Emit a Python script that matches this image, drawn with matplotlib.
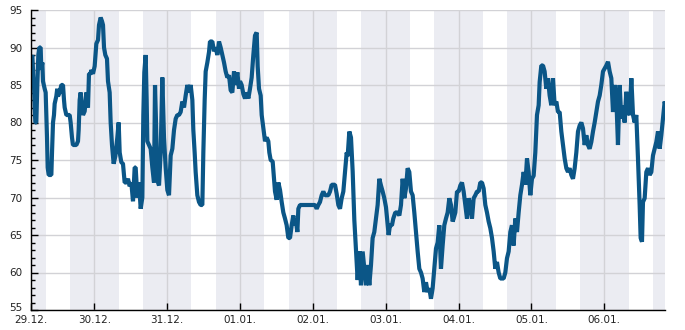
import matplotlib
matplotlib.use("Agg")
import matplotlib.pyplot as plt
import matplotlib.transforms as mtransforms
from matplotlib.ticker import MultipleLocator

# hours since 29.12. 00:00
hours = [
    3.05, 3.26, 3.59, 3.92, 4.14, 4.36, 4.58, 4.9, 5.23, 5.56, 5.89, 6.33, 6.55, 6.88, 7.1, 7.65, 7.98,
    8.2, 8.42, 8.64, 8.97, 9.52, 9.85, 10.07, 10.4, 10.72, 10.94, 11.49, 11.8, 12.04, 12.59, 13.14, 13.69,
    14.02, 14.24, 14.79, 15.34, 15.89, 16.21, 16.65, 16.98, 17.53, 18.08, 18.63, 18.85, 19.18, 19.51,
    19.84, 20.28, 20.83, 21.38, 21.92, 22.25, 22.8, 23.02, 23.57, 24.12, 24.67, 25.22, 25.55, 26.1,
    26.54, 26.87, 27.2, 27.63, 28.18, 28.51, 29.06, 29.39, 29.83, 30.38, 30.93, 31.59, 32.03, 32.36,
    32.9, 33.45, 34.0, 34.55, 35.1, 35.65, 36.2, 36.75, 37.3,
    37.63, 38.18, 38.73, 39.28, 39.83, 40.15, 40.48, 40.92, 41.25, 41.47, 42.02, 42.57, 43.12, 43.67,
    44.0, 44.33, 44.55, 44.99, 45.32, 45.86, 46.41, 46.74, 46.96, 47.51, 48.06, 48.61, 49.16, 49.71,
    50.26, 50.81, 51.35, 51.9, 52.45, 53.0, 53.55, 54.1, 54.65, 55.2, 55.75, 56.3, 56.62, 57.06, 57.39,
    57.94, 58.49, 59.04, 59.59, 59.92, 60.36, 60.69, 61.24, 61.79, 62.11, 62.88, 63.43, 63.98, 64.53,
    65.08, 65.63, 66.18, 66.73, 67.28, 67.82, 68.37, 68.92, 69.47, 70.02, 70.57, 71.12, 71.67,
    72.0, 72.55, 73.1, 73.65, 74.2, 74.75, 75.29, 75.84, 76.39, 76.94, 77.49, 77.82, 78.26, 78.81,
    79.14, 79.69, 80.24, 80.78, 81.33, 81.66, 82.1, 82.76, 83.2, 83.53, 84.08, 84.63, 85.18, 85.73,
    86.27, 86.82, 87.37, 87.92, 88.47, 89.02, 89.57, 89.9, 90.34, 90.89, 91.22, 91.76, 92.86, 93.96,
    95.06, 96.71, 97.25, 97.8, 98.35, 98.9, 99.45, 100.0, 100.55, 101.1, 101.65, 102.2, 103.29,
    103.84, 104.39, 104.94, 105.49, 106.04, 106.59, 107.14,
    107.46, 108.01, 108.56, 109.11, 109.66, 110.2, 110.75, 111.3, 111.85, 112.4, 112.95, 113.5,
    114.05, 114.6, 115.15, 115.69, 116.24, 116.79, 117.34, 117.89, 118.44, 118.99, 119.54, 120.09,
    120.64, 120.96, 121.4, 122.06, 122.5, 123.16, 123.93, 124.48, 125.03, 125.58, 126.13, 126.67,
    127.22, 127.77, 128.32, 128.87, 129.42, 129.97, 130.52, 131.07, 131.62, 132.16, 132.71, 133.26,
    133.81, 134.36, 134.91, 135.46, 136.01, 136.56, 137.11, 137.65, 138.2, 138.75, 139.3, 139.85,
    140.4, 140.95, 141.5, 142.05,
    142.38, 142.93, 143.48, 144.03, 144.58, 145.12, 145.67, 146.22, 146.77, 147.32, 147.87, 148.42,
    148.97, 149.52, 150.07, 150.61, 151.16, 151.71, 152.26, 152.81, 153.36, 153.91, 154.46, 155.01,
    155.56, 156.1, 156.65, 157.2, 157.75, 158.3, 158.85, 159.4, 159.95, 160.5, 161.05, 161.59,
    162.14, 162.69, 163.24, 163.79, 164.34, 164.89, 165.44, 165.99, 166.54, 167.08, 167.63, 168.18,
    168.73, 169.28, 169.83, 170.38, 170.71, 171.26, 171.81, 172.35, 172.9, 173.45, 174.0, 174.55,
    175.1, 175.65, 176.2, 176.75,
    177.3, 177.85, 178.4, 178.95, 179.5, 180.04, 180.59, 181.14, 181.69, 182.24, 182.79, 183.34,
    183.89, 184.44, 184.99, 185.53, 186.08, 186.63, 187.18, 187.73, 188.28, 188.83, 189.38, 189.93,
    190.48, 191.02, 191.57, 192.12, 192.67, 193.22, 193.77, 194.32, 194.87, 195.42, 195.97, 196.51,
    197.06, 197.61, 198.16, 198.71, 199.26, 199.81, 200.36, 200.91, 201.46, 202.0, 202.55, 203.1,
    203.65, 203.98, 204.42, 204.75, 205.3, 205.85, 206.4, 206.95, 207.5, 208.04, 208.59, 209.14,
    209.69, 210.24, 210.79, 211.34, 211.89, 212.11,
]

humidity = [
    87.5, 88.5, 89, 86, 85, 82, 80, 80, 85, 89, 90, 90, 87, 88, 85.5, 84.5, 84,
    81, 78, 74, 73, 73, 73, 76, 80, 81, 82.5, 83.5, 84.5, 83.5, 84, 85, 85,
    83, 82, 81, 81, 81, 80, 78, 77, 77, 77, 77.5, 79, 83, 84,
    82.5, 81, 81.5, 84, 82, 86.5, 86.5, 87, 86.5, 87.5, 90.5, 91, 93, 94,
    93.5, 93, 90, 89, 88.5, 85.5, 84, 80, 77, 74.5, 75.5, 78, 80, 76,
    74.7, 74.5, 72, 72, 72.5, 71.5, 72, 69.5, 74,
    74, 70, 72, 68.5, 70, 81, 86.7, 89, 83, 77.5, 77, 76.5, 74, 72,
    85, 80, 76, 72, 71.6, 76, 86, 81, 78, 74, 71, 70.3, 75.6, 76.5,
    79, 80.5, 81, 81, 81.4, 82.8, 82, 83.6, 85, 84, 85, 83, 79, 76, 73.4,
    70.3, 69.4, 69, 69, 76, 83, 86.8, 88, 89.4, 90.8, 90.8, 89.5, 90, 89,
    90.8, 90, 89, 88, 86.8, 86, 86.3, 84.3, 84, 86.8, 85, 86.7, 84.5,
    85.5, 85, 83.8, 83.2, 84, 83.2, 84.5, 86, 89, 91.6, 92, 87.5, 84.5, 83.6,
    81, 79.3, 77.5, 78, 77.5, 76, 75, 74.8, 72.5, 70.8, 69.7, 72, 71, 69.4,
    68, 67.2, 66.3, 64.6, 64.6, 66.3, 67.6, 66.3, 67.2, 65.4, 68.5, 69, 69, 69,
    69, 69, 68.5, 69, 69.4, 70.3, 70.8, 70.3, 70.3, 70.3, 70.8, 71.7, 71.7,
    70.5, 69, 68.5, 69.9, 70.8, 73.4, 76,
    75.5, 78.8, 78, 73.5, 67, 63, 59, 62.8, 58.3, 62.8, 60.5, 58.3,
    61, 58.3, 61, 64.6, 65.4, 67.2, 69, 72.5, 71.6, 70.8, 69.9, 68.7,
    66.3, 65, 66.3, 66.3, 67.2, 68, 68, 67.6, 69, 72.5, 69.9, 71.2,
    73.9, 73.4, 70.8, 70.3, 68, 65.4, 62.8, 60.5, 60, 59.2, 57.4, 58.7,
    57.4, 57.9, 56.5, 57.9, 60.5, 63.2, 64, 66.3, 60.5, 63.6, 66.3, 67.2,
    68, 69.9, 69, 66.8,
    67.2, 68, 70.8, 70.8, 71.6, 72, 70.8, 69, 67.2, 69.9, 69, 67.2,
    69.9, 70.3, 70.8, 70.8, 72, 72, 71.2, 69, 68, 66.8, 65.9, 64.6,
    62.8, 60.5, 61.4, 60, 59.2, 59.2, 59.2, 60, 61.9, 62.8, 65.4, 66.3,
    63.6, 67.2, 65.4, 68, 70.3, 71.7, 73.4, 71.7, 75.2, 73.4, 70.3, 72.5,
    72.9, 76, 81, 82.3, 85.4, 87.6, 87.6, 86.8, 84.5, 85.9, 83.6, 82.3,
    85.9, 82.3, 82.8, 81.4,
    81.4, 78.8, 77, 75.2, 73.9, 73.4, 73.9, 73, 72.5, 73.9, 76, 78.8,
    79.6, 80, 79.2, 77, 78.3, 77, 76.5, 77.4, 78.8, 80, 81.4, 82.8,
    83.6, 85, 86.8, 87.2, 87.6, 88.1, 86.8, 85.9, 81.4, 85, 83.2, 77,
    85, 80.5, 82.3, 80, 84.1, 81.4, 81, 85.9, 81, 80, 81, 75.2,
    69, 64.6, 64.1, 69.4, 69.9, 73.4, 73.9, 73, 73.4, 75.6, 76.5, 77.4,
    78.8, 76.5, 78.3, 80.5, 82.8, 82.3,
]

date_labels = ["29.12.", "30.12.", "31.12.", "01.01.", "02.01.", "03.01.",
               "04.01.", "05.01.", "06.01."]
y_ticks = [55, 60, 65, 70, 75, 80, 85, 90, 95]
x_start, x_end = 3.05, 212.1
night_start_hour, night_end_hour = 16, 8

fig = plt.figure(figsize=(6.85, 3.3), dpi=100)
ax = fig.add_axes([30.7 / 685, 20 / 330, 634.6 / 685, 300 / 330])

# night bands
ax.axvspan(x_start, night_end_hour, color="#ebecf2", lw=0, zorder=0)
for d in range(0, 9):
    ax.axvspan(d * 24 + night_start_hour, (d + 1) * 24 + night_end_hour,
               color="#ebecf2", lw=0, zorder=0)

ax.plot(hours, humidity, color="#0b5687", lw=3.0, zorder=3,
        solid_joinstyle="bevel", solid_capstyle="butt")

ax.set_xlim(x_start, x_end)
ax.set_ylim(55, 95)

xt = [x_start] + [24 * k for k in range(1, len(date_labels))]
ax.set_xticks(xt)
ax.set_xticklabels(date_labels)
ax.set_yticks(y_ticks)
ax.yaxis.set_minor_locator(MultipleLocator(1))

ax.grid(True, which="major", color="#d2d2d6", lw=1, zorder=1)
ax.set_axisbelow(False)
for gl in ax.get_xgridlines() + ax.get_ygridlines():
    gl.set_zorder(1)

for s in ["top", "right"]:
    ax.spines[s].set_visible(False)
for s in ["left", "bottom"]:
    ax.spines[s].set_color("black")
    ax.spines[s].set_linewidth(1)
    ax.spines[s].set_zorder(4)

ax.tick_params(axis="both", which="major", direction="in", length=5,
               width=1, color="black", labelsize=7.5, labelcolor="#222222")
ax.tick_params(axis="y", which="minor", direction="in", length=3, width=1,
               color="black")
ax.tick_params(axis="y", which="major", pad=6)
ax.tick_params(axis="x", which="major", pad=3.5)
# nudge the lowest y label up a little so it clears the first date label
lab0 = ax.get_yticklabels()[0]
lab0.set_transform(lab0.get_transform() +
                   mtransforms.ScaledTranslation(0, 2 / 72, fig.dpi_scale_trans))

fig.savefig("out.png", dpi=100)
